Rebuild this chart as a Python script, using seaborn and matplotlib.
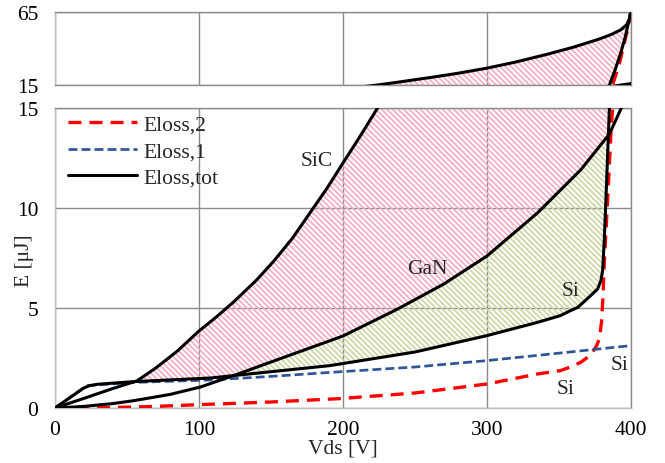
import numpy as np
import matplotlib
matplotlib.use("Agg")
import matplotlib.pyplot as plt
import seaborn as sns

# ---------------- data ----------------
x_ticks = [0, 100, 200, 300, 400]
y_ticks_low = [0, 5, 10, 15]
y_ticks_high = [15, 65]

sic_v = [0, 20, 40, 57, 70, 85, 100, 112, 124, 140, 152, 165, 177, 189, 200, 212,
         224, 240, 261, 280, 300, 320, 342, 360, 377, 386, 393, 397, 399, 400]
sic_e = [0, 0.48, 0.97, 1.36, 2.0, 2.85, 3.85, 4.55, 5.3, 6.4, 7.35, 8.5, 9.75, 11.0, 12.25, 13.6,
         15.0, 17.2, 20.2, 23.1, 26.6, 30.8, 36.2, 41.0, 46.3, 49.6, 53.0, 56.5, 60.5, 64.0]

gan_v = [0, 20, 40, 55, 80, 101, 124, 150, 175, 200, 238, 270, 300, 335, 365, 385, 392, 400]
gan_e = [0, 0.08, 0.22, 0.37, 0.68, 1.05, 1.62, 2.3, 2.95, 3.6, 4.95, 6.2, 7.6, 9.75, 11.9,
         13.7, 14.8, 16.0]

si_v = [0, 20, 24, 30, 55, 108, 124, 191, 250, 300, 335, 351, 358, 363, 372, 376.8, 379.1, 380.3,
        381.5, 383, 385, 389, 393, 396, 398.8, 399.3]
si_e = [0, 1.0, 1.12, 1.19, 1.32, 1.5, 1.62, 2.12, 2.8, 3.62, 4.28, 4.62, 4.87, 5.03, 5.62, 5.95,
        6.37, 6.87, 8.5, 11.2, 15.0, 25.5, 37.5, 48.0, 60.4, 63.8]

e1_v = [0, 22, 55, 108, 150, 191, 250, 300, 351, 400]
e1_e = [0, 1.12, 1.28, 1.4, 1.58, 1.78, 2.05, 2.37, 2.75, 3.12]

e2_v = [0, 25, 43, 70, 101, 150, 198, 250, 300, 335, 351, 358, 365, 372, 376, 378, 379.5,
        380.5, 381.4, 383.8, 386.1, 387.2, 392, 397.7, 399.5]
e2_e = [0, 0, 0.03, 0.08, 0.17, 0.3, 0.47, 0.75, 1.2, 1.7, 1.87, 2.05, 2.28, 2.65, 3.1, 3.45, 4.28,
        5.5, 7.2, 10.45, 13.8, 15.0, 30.0, 53.5, 62.0]

series_labels = ["Eloss,2", "Eloss,1", "Eloss,tot"]
annotations = [("SiC", 181.6, 12.35), ("GaN", 258.8, 6.95), ("Si", 358.3, 5.85),
               ("Si", 391.9, 2.15), ("Si", 354.8, 0.95)]

# ---------------- style ----------------
sns.set_theme(style="white")
plt.rcParams["font.family"] = ["Liberation Serif", "DejaVu Serif"]
plt.rcParams["hatch.linewidth"] = 1.25
FS = 15.5
GRID = "#8c8c8c"
LIGHT = "#bfbfbf"
PINK = "#f5aebf"
GREEN = "#c9d8a2"
RED = "#ff0000"
BLUE = "#2f5597"

fig = plt.figure(figsize=(6.65, 4.64), dpi=100)
W, H = 665.0, 464.0
ax = fig.add_axes([55 / W, (H - 409) / H, 576 / W, 300 / H])
axt = fig.add_axes([55 / W, (H - 86) / H, 576 / W, 72.7 / H])

HATCH = "\\" * 6


def draw(a, legend_lines):
    xs = np.linspace(0, 400, 8001)
    sic = np.interp(xs, sic_v, sic_e)
    gan = np.interp(xs, gan_v, gan_e)
    si = np.interp(xs, si_v, si_e)
    lower = np.maximum(gan, si)
    a.fill_between(xs, lower, sic, where=sic > lower, interpolate=True, facecolor="none",
                   edgecolor=PINK, hatch=HATCH, linewidth=0, zorder=1)
    a.fill_between(xs, si, gan, where=gan > si, interpolate=True, facecolor="none",
                   edgecolor=GREEN, hatch=HATCH, linewidth=0, zorder=1)

    sns.lineplot(x=e2_v, y=e2_e, ax=a, color=RED, linewidth=2.4,
                 linestyle=(0, (3.9, 2.4)), errorbar=None, zorder=3)
    legend_lines.append(a.lines[-1])
    sns.lineplot(x=e1_v, y=e1_e, ax=a, color=BLUE, linewidth=1.95,
                 linestyle=(0, (3.3, 1.5)), errorbar=None, zorder=3)
    legend_lines.append(a.lines[-1])
    for vv, ee in [(sic_v, sic_e), (gan_v, gan_e), (si_v, si_e)]:
        sns.lineplot(x=vv, y=ee, ax=a, color="black", linewidth=2.2,
                     errorbar=None, zorder=4)
        a.lines[-1].set_solid_joinstyle("round")
        if vv is sic_v:
            legend_lines.append(a.lines[-1])


handles = []
draw(ax, handles)
draw(axt, [])

for a in (ax, axt):
    a.set_xlim(0, 400)
    a.set_axisbelow(True)
    a.grid(True, color=GRID, linewidth=1.0)
    a.tick_params(length=0, labelsize=FS, colors="black")
    for side in ("top", "right"):
        a.spines[side].set_color(GRID)
    for side in ("left", "bottom"):
        a.spines[side].set_color(LIGHT)
    for s in a.spines.values():
        s.set_linewidth(1.0)
        s.set_visible(True)
    a.set_xlabel("")
    a.set_ylabel("")

ax.set_ylim(0, 15)
ax.set_xticks(x_ticks)
ax.set_yticks(y_ticks_low)
ax.tick_params(axis="y", pad=12)
ax.tick_params(axis="x", pad=9)

axt.set_ylim(15, 65)
axt.set_xticks(x_ticks)
axt.set_yticks(y_ticks_high)
axt.tick_params(axis="y", pad=12)
axt.tick_params(axis="x", labelbottom=False)
axt.spines["bottom"].set_color(GRID)

ax.set_xlabel("Vds [V]", fontsize=FS)
ax.xaxis.set_label_coords(0.5, -0.103)
fig.text(25 / W, 1 - 261 / H, "E [μJ]", rotation=90, ha="center", va="center", fontsize=FS)

for txt, xv, yv in annotations:
    ax.text(xv, yv, txt, ha="center", va="center", fontsize=FS, zorder=5)

ax.legend(handles, series_labels, loc="upper left", bbox_to_anchor=(0.012, 1.0),
          frameon=False, fontsize=FS, handlelength=3.2, handletextpad=0.3,
          labelspacing=0.3, borderaxespad=0.0, borderpad=0.3)

fig.savefig("out.png", dpi=100)
